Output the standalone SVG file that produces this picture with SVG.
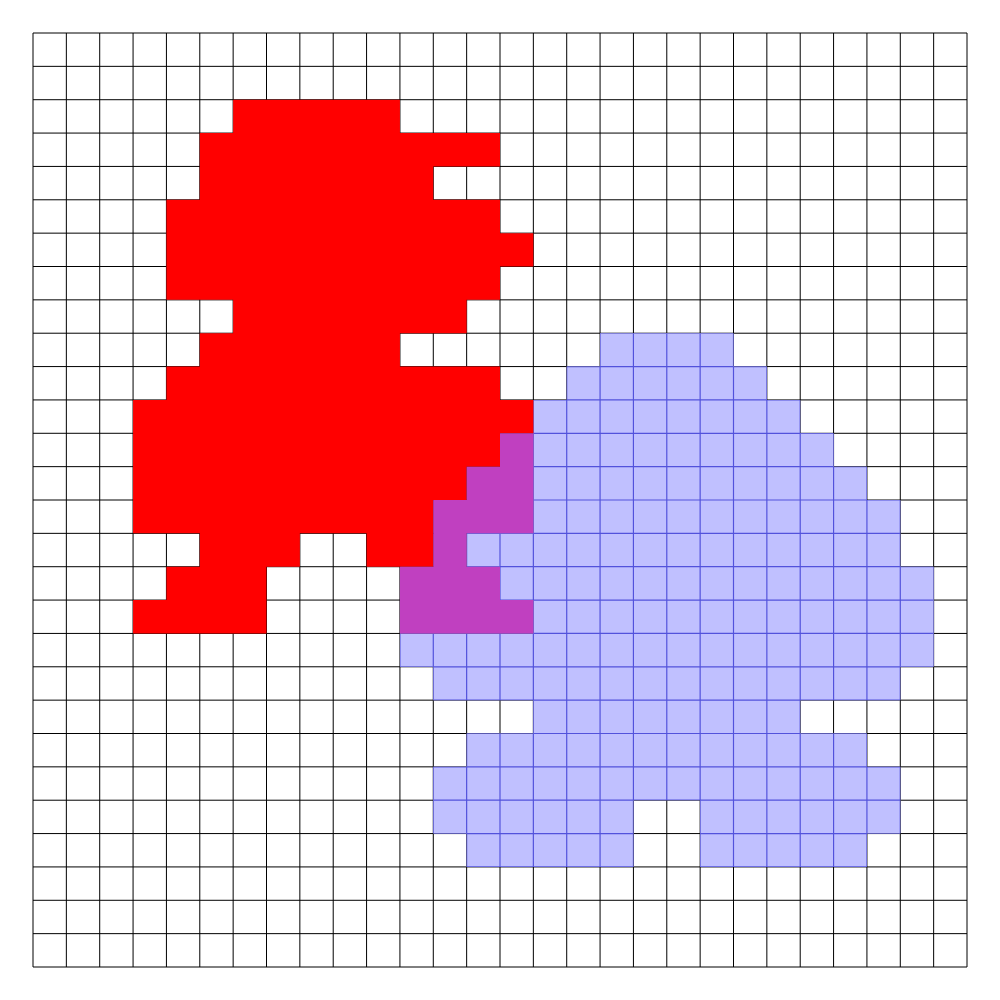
<svg xmlns="http://www.w3.org/2000/svg" width="1000" height="1000" viewBox="0 0 1000 1000">
<style>
.grid{fill:none;stroke:#000;stroke-width:1;vector-effect:non-scaling-stroke}
.bline{fill:none;stroke:#5252dc;stroke-width:1.2;vector-effect:non-scaling-stroke}
.blue{fill:#c0c0ff}
.red{fill:#ff0000}
.purple{fill:#c040c0}
</style>
<defs>
<path id="blueOnly" d="M17 9H21V10H17Z M16 10H22V11H16Z M15 11H23V12H15Z M15 12H24V13H15Z M15 13H25V14H15Z M15 14H26V15H15Z M13 15H26V16H13Z M14 16H27V17H14Z M15 17H27V18H15Z M11 18H27V19H11Z M12 19H26V20H12Z M15 20H23V21H15Z M13 21H25V22H13Z M12 22H26V23H12Z M12 23H18V24H12Z M20 23H26V24H20Z M13 24H18V25H13Z M20 24H25V25H20Z"/>
<clipPath id="blueClip"><use href="#blueOnly"/></clipPath>
</defs>
<rect width="1000" height="1000" fill="#fff"/>
<g transform="translate(33 33) scale(33.357142857)">
<g id="grid">
<path class="grid" d="M0 0V28M1 0V28M2 0V28M3 0V28M4 0V28M5 0V28M6 0V28M7 0V28M8 0V28M9 0V28M10 0V28M11 0V28M12 0V28M13 0V28M14 0V28M15 0V28M16 0V28M17 0V28M18 0V28M19 0V28M20 0V28M21 0V28M22 0V28M23 0V28M24 0V28M25 0V28M26 0V28M27 0V28M28 0V28 M0 0H28M0 1H28M0 2H28M0 3H28M0 4H28M0 5H28M0 6H28M0 7H28M0 8H28M0 9H28M0 10H28M0 11H28M0 12H28M0 13H28M0 14H28M0 15H28M0 16H28M0 17H28M0 18H28M0 19H28M0 20H28M0 21H28M0 22H28M0 23H28M0 24H28M0 25H28M0 26H28M0 27H28M0 28H28"/>
</g>
<g id="region-blue">
<use href="#blueOnly" class="blue"/>
<g clip-path="url(#blueClip)">
<path class="bline" d="M11 9V25M12 9V25M13 9V25M14 9V25M15 9V25M16 9V25M17 9V25M18 9V25M19 9V25M20 9V25M21 9V25M22 9V25M23 9V25M24 9V25M25 9V25M26 9V25M27 9V25 M11 9H27M11 10H27M11 11H27M11 12H27M11 13H27M11 14H27M11 15H27M11 16H27M11 17H27M11 18H27M11 19H27M11 20H27M11 21H27M11 22H27M11 23H27M11 24H27M11 25H27"/>
</g>
</g>
<g id="region-red">
<path class="red" d="M6 2H11V3H6Z M5 3H14V4H5Z M5 4H12V5H5Z M4 5H14V6H4Z M4 6H15V7H4Z M4 7H14V8H4Z M6 8H13V9H6Z M5 9H11V10H5Z M4 10H14V11H4Z M3 11H15V12H3Z M3 12H14V13H3Z M3 13H13V14H3Z M3 14H12V15H3Z M5 15H8V16H5Z M10 15H12V16H10Z M4 16H7V17H4Z M3 17H7V18H3Z"/>
</g>
<g id="region-overlap">
<path class="purple" d="M14 12H15V13H14Z M13 13H15V14H13Z M12 14H15V15H12Z M12 15H13V16H12Z M11 16H14V17H11Z M11 17H15V18H11Z"/>
</g>
</g>
</svg>
